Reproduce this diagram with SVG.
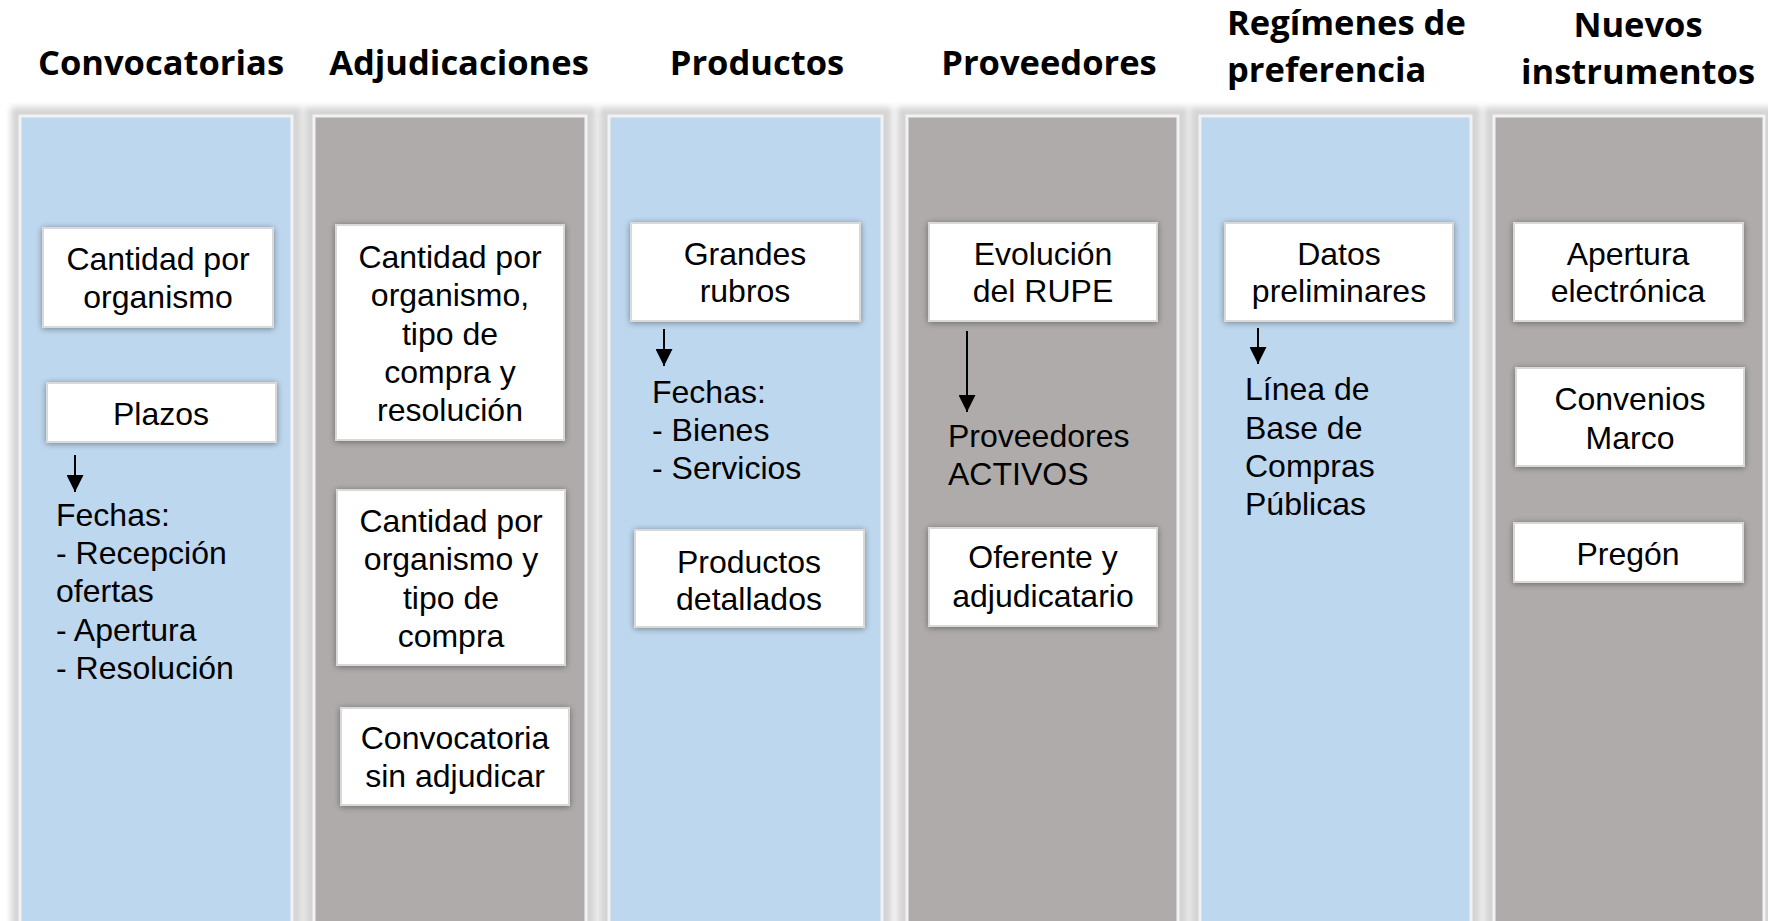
<svg xmlns="http://www.w3.org/2000/svg" width="1768" height="921" viewBox="0 0 1768 921">
<defs>
<filter id="glow" x="-10%" y="-10%" width="120%" height="120%"><feGaussianBlur stdDeviation="3"/></filter>
<filter id="bshadow" x="-20%" y="-20%" width="140%" height="140%">
<feGaussianBlur in="SourceAlpha" stdDeviation="3" result="b"/>
<feOffset in="b" dx="0" dy="1" result="o"/>
<feComponentTransfer in="o" result="s"><feFuncA type="linear" slope="0.4"/></feComponentTransfer>
<feMerge><feMergeNode in="s"/><feMergeNode in="SourceGraphic"/></feMerge>
</filter>
<marker id="ah" markerUnits="userSpaceOnUse" markerWidth="18" markerHeight="17" viewBox="0 0 18 17" refX="17" refY="8.5" orient="auto">
<path d="M0,0 L17,8.5 L0,17 z" fill="#000"/>
</marker>
<style>
.title{font-family:"Open Sans","Noto Sans",sans-serif;font-weight:bold;font-size:34.5px;fill:#000}
.t{font-family:"Liberation Sans",Arial,sans-serif;font-size:32px;fill:#000}
.c{text-anchor:middle}
.frame{fill:#d4d4d4}
.blue{fill:#bdd7ee;stroke:#f2f2f2;stroke-width:3}
.gray{fill:#afabab;stroke:#f2f2f2;stroke-width:3}
.box{fill:#fff;stroke:#d9d9d9;stroke-width:2}
.arr{stroke:#000;stroke-width:2;fill:none}
</style>
</defs>
<rect width="1768" height="921" fill="#fff"/>

<g id="titles">
<text class="title c" x="161" y="75">Convocatorias</text>
<text class="title c" x="459" y="75">Adjudicaciones</text>
<text class="title c" x="757" y="75">Productos</text>
<text class="title c" x="1049" y="75">Proveedores</text>
<text class="title" x="1227" y="35">Regímenes de</text>
<text class="title" x="1227" y="82">preferencia</text>
<text class="title c" x="1638" y="37">Nuevos</text>
<text class="title c" x="1638" y="84">instrumentos</text>
</g>

<g id="col-convocatorias">
<rect class="frame" x="11" y="107" width="291" height="830" filter="url(#glow)"/>
<rect class="blue" x="20" y="116" width="272" height="820"/>
<g id="n-cantidad-org" filter="url(#bshadow)"><rect class="box" x="43" y="228" width="230" height="99"/></g>
<text class="t c" x="158" y="270">Cantidad por</text>
<text class="t c" x="158" y="308">organismo</text>
<g id="n-plazos" filter="url(#bshadow)"><rect class="box" x="47" y="383" width="229" height="59"/></g>
<text class="t c" x="161" y="425">Plazos</text>
<text class="t" x="56" y="526">Fechas:</text>
<text class="t" x="56" y="564">- Recepción</text>
<text class="t" x="56" y="602">ofertas</text>
<text class="t" x="56" y="641">- Apertura</text>
<text class="t" x="56" y="679">- Resolución</text>
</g>

<g id="col-adjudicaciones">
<rect class="frame" x="304" y="107" width="292" height="830" filter="url(#glow)"/>
<rect class="gray" x="314" y="116" width="272" height="820"/>
<g id="n-adj1" filter="url(#bshadow)"><rect class="box" x="336" y="225" width="228" height="215"/></g>
<text class="t c" x="450" y="268">Cantidad por</text>
<text class="t c" x="450" y="306">organismo,</text>
<text class="t c" x="450" y="345">tipo de</text>
<text class="t c" x="450" y="383">compra y</text>
<text class="t c" x="450" y="421">resolución</text>
<g id="n-adj2" filter="url(#bshadow)"><rect class="box" x="337" y="490" width="228" height="175"/></g>
<text class="t c" x="451" y="532">Cantidad por</text>
<text class="t c" x="451" y="570">organismo y</text>
<text class="t c" x="451" y="609">tipo de</text>
<text class="t c" x="451" y="647">compra</text>
<g id="n-adj3" filter="url(#bshadow)"><rect class="box" x="341" y="708" width="228" height="97"/></g>
<text class="t c" x="455" y="749">Convocatoria</text>
<text class="t c" x="455" y="787">sin adjudicar</text>
</g>

<g id="col-productos">
<rect class="frame" x="599" y="107" width="293" height="830" filter="url(#glow)"/>
<rect class="blue" x="609" y="116" width="273" height="820"/>
<g id="n-grandes" filter="url(#bshadow)"><rect class="box" x="631" y="223" width="229" height="98"/></g>
<text class="t c" x="745" y="265">Grandes</text>
<text class="t c" x="745" y="302">rubros</text>
<text class="t" x="652" y="403">Fechas:</text>
<text class="t" x="652" y="441">- Bienes</text>
<text class="t" x="652" y="479">- Servicios</text>
<g id="n-productos" filter="url(#bshadow)"><rect class="box" x="635" y="530" width="229" height="97"/></g>
<text class="t c" x="749" y="573">Productos</text>
<text class="t c" x="749" y="610">detallados</text>
</g>

<g id="col-proveedores">
<rect class="frame" x="897" y="107" width="291" height="830" filter="url(#glow)"/>
<rect class="gray" x="907" y="116" width="271" height="820"/>
<g id="n-rupe" filter="url(#bshadow)"><rect class="box" x="929" y="223" width="228" height="98"/></g>
<text class="t c" x="1043" y="265">Evolución</text>
<text class="t c" x="1043" y="302">del RUPE</text>
<text class="t" x="948" y="447">Proveedores</text>
<text class="t" x="948" y="485">ACTIVOS</text>
<g id="n-oferente" filter="url(#bshadow)"><rect class="box" x="929" y="528" width="228" height="98"/></g>
<text class="t c" x="1043" y="568">Oferente y</text>
<text class="t c" x="1043" y="607">adjudicatario</text>
</g>

<g id="col-regimenes">
<rect class="frame" x="1190" y="107" width="291" height="830" filter="url(#glow)"/>
<rect class="blue" x="1200" y="116" width="271" height="820"/>
<g id="n-datos" filter="url(#bshadow)"><rect class="box" x="1225" y="223" width="228" height="98"/></g>
<text class="t c" x="1339" y="265">Datos</text>
<text class="t c" x="1339" y="302">preliminares</text>
<text class="t" x="1245" y="400">Línea de</text>
<text class="t" x="1245" y="439">Base de</text>
<text class="t" x="1245" y="477">Compras</text>
<text class="t" x="1245" y="515">Públicas</text>
</g>

<g id="col-nuevos">
<rect class="frame" x="1484" y="107" width="290" height="830" filter="url(#glow)"/>
<rect class="gray" x="1494" y="116" width="270" height="820"/>
<g id="n-apertura" filter="url(#bshadow)"><rect class="box" x="1514" y="223" width="229" height="98"/></g>
<text class="t c" x="1628" y="265">Apertura</text>
<text class="t c" x="1628" y="302">electrónica</text>
<g id="n-convenios" filter="url(#bshadow)"><rect class="box" x="1516" y="368" width="228" height="98"/></g>
<text class="t c" x="1630" y="410">Convenios</text>
<text class="t c" x="1630" y="449">Marco</text>
<g id="n-pregon" filter="url(#bshadow)"><rect class="box" x="1514" y="523" width="229" height="59"/></g>
<text class="t c" x="1628" y="565">Pregón</text>
</g>

<g id="connectors">
<line class="arr" x1="75" y1="455" x2="75" y2="492" marker-end="url(#ah)"/>
<line class="arr" x1="664" y1="329" x2="664" y2="366" marker-end="url(#ah)"/>
<line class="arr" x1="967" y1="331" x2="967" y2="412" marker-end="url(#ah)"/>
<line class="arr" x1="1258" y1="328" x2="1258" y2="364" marker-end="url(#ah)"/>
</g>
</svg>
